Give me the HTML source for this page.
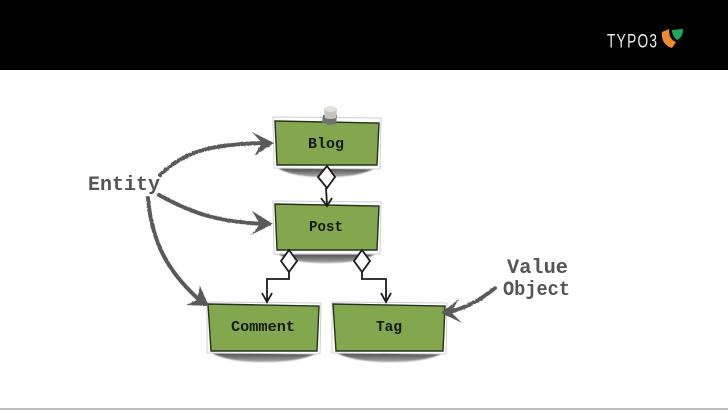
<!DOCTYPE html>
<html><head><meta charset="utf-8"><style>html,body{margin:0;padding:0;background:#fff;width:728px;height:410px;overflow:hidden}svg{display:block}</style></head>
<body>
<svg width="728" height="410" viewBox="0 0 728 410" xmlns="http://www.w3.org/2000/svg">
<defs>
<filter id="rough" x="-10%" y="-10%" width="120%" height="120%"><feTurbulence type="fractalNoise" baseFrequency="0.5" numOctaves="2" seed="3"/><feDisplacementMap in="SourceGraphic" scale="1.8"/></filter>
<filter id="blur" x="-20%" y="-50%" width="140%" height="200%"><feGaussianBlur stdDeviation="0.8"/></filter>
<filter id="soft" x="-5%" y="-5%" width="110%" height="110%"><feGaussianBlur stdDeviation="0.35"/></filter>
<linearGradient id="sh" x1="0" y1="0" x2="0" y2="1"><stop offset="0" stop-color="#4a4a4a"/><stop offset="1" stop-color="#aaa"/></linearGradient>
</defs>
<rect width="728" height="70" fill="#000"/>
<rect y="408" width="728" height="2" fill="#bdbdbd"/>

<text transform="translate(607 47.500) scale(0.72 1)" x="0" y="0" font-family="Liberation Sans, sans-serif" font-size="19" fill="#eee" letter-spacing="1.800">TYPO3</text>
<path d="M662 32 L669 29 C669 36 671 40 676 42 L672 48 C665 46 661 40 662 32Z" fill="#f08a30"/>
<path d="M672 30 L683 29 C683 35 681 38 677 40 C674 38 672 34 672 30Z" fill="#1fa85a"/>

<g filter="url(#blur)">
<path d="M278 168 L375 168 Q360 177 326 177 Q292 177 278 168Z" fill="url(#sh)"/>
<path d="M278 254 L375 254 Q360 263 326 263 Q292 263 278 254Z" fill="url(#sh)"/>
<path d="M212 353 L317 353 Q300 362 264 362 Q228 362 212 353Z" fill="url(#sh)"/>
<path d="M337 353 L443 353 Q426 362 390 362 Q354 362 337 353Z" fill="url(#sh)"/>
</g>

<g fill="#fff" stroke="#cfcfcf" stroke-width="1">
<path d="M273 117 L381 118 L380 169 L274 168Z"/>
<path d="M273 201 L381 202 L380 254 L274 254Z"/>
<path d="M207 302 L321 303 L320 354 L207 353Z"/>
<path d="M332 302 L447 303 L446 354 L332 353Z"/>
</g>
<g fill="#82a74f" stroke="#26301a" stroke-width="1.400" filter="url(#soft)">
<path d="M275 121 L379 123 L377 165 L277 165Z"/>
<path d="M275 204 L379 206 L377 250 L277 250Z"/>
<path d="M208 304 L319 306 L317 351 L211 351Z"/>
<path d="M333 304 L445 306 L443 351 L336 351Z"/>
</g>

<g font-family="Liberation Mono, monospace" font-weight="bold" font-size="15" fill="#15190f">
<text x="308" y="148" textLength="36" lengthAdjust="spacingAndGlyphs">Blog</text>
<text x="309" y="231" textLength="34" lengthAdjust="spacingAndGlyphs">Post</text>
<text x="231" y="331" textLength="64" lengthAdjust="spacingAndGlyphs">Comment</text>
<text x="376" y="331" textLength="26" lengthAdjust="spacingAndGlyphs">Tag</text>
</g>

<g fill="none" stroke="#1a1a1a" stroke-width="1.800" filter="url(#soft)">
<path d="M327 166 L335 177 L327 188 L318 177Z" fill="#fff"/>
<path d="M326 188 L327 205 M321 198 L327 206 L332 198"/>
<path d="M289 250 L297 261 L289 272 L281 261Z" fill="#fff"/>
<path d="M289 272 L289 279 L267 279 L267 301 M262 293 L267 302 L272 293"/>
<path d="M362 250 L370 261 L362 272 L354 261Z" fill="#fff"/>
<path d="M362 272 L362 279 L386 279 L386 301 M381 293 L386 302 L391 293"/>
</g>

<g filter="url(#rough)">
<g fill="none" stroke="#5a5a5a" stroke-width="4" stroke-linecap="round">
<path d="M160 175 C185 150 215 144 266 143"/>
<path d="M159 195 C190 212 215 222 266 224"/>
<path d="M148 198 C152 245 170 275 204 304"/>
<path d="M495 288 C478 302 465 308 446 313"/>
</g>
<g fill="#5a5a5a">
<path d="M252 132 L274 143 L254 156 L262 143Z"/>
<path d="M252 211 L273 224 L251 235 L260 224Z"/>
<path d="M200 286 L209 306 L186 305 L197 300Z"/>
<path d="M459 299 L441 313 L462 323 L451 312Z"/>
</g>
</g>

<g font-family="Liberation Mono, monospace" font-weight="bold" font-size="20" fill="#555">
<text x="88" y="190" textLength="72" lengthAdjust="spacingAndGlyphs">Entity</text>
<text x="507" y="273" textLength="61" lengthAdjust="spacingAndGlyphs">Value</text>
<text x="503" y="295" textLength="67" lengthAdjust="spacingAndGlyphs">Object</text>
</g>

<g filter="url(#soft)">
<path d="M323 115 L337 115 L336 124 L328 125 L322 122Z" fill="#6f6f6f"/>
<path d="M324 109 Q330 105 337 109 L336 118 Q330 120 325 118Z" fill="#c4c4bd"/>
<ellipse cx="330.500" cy="109" rx="6" ry="3" fill="#e2e2dc"/>
</g>
</svg>
</body></html>
